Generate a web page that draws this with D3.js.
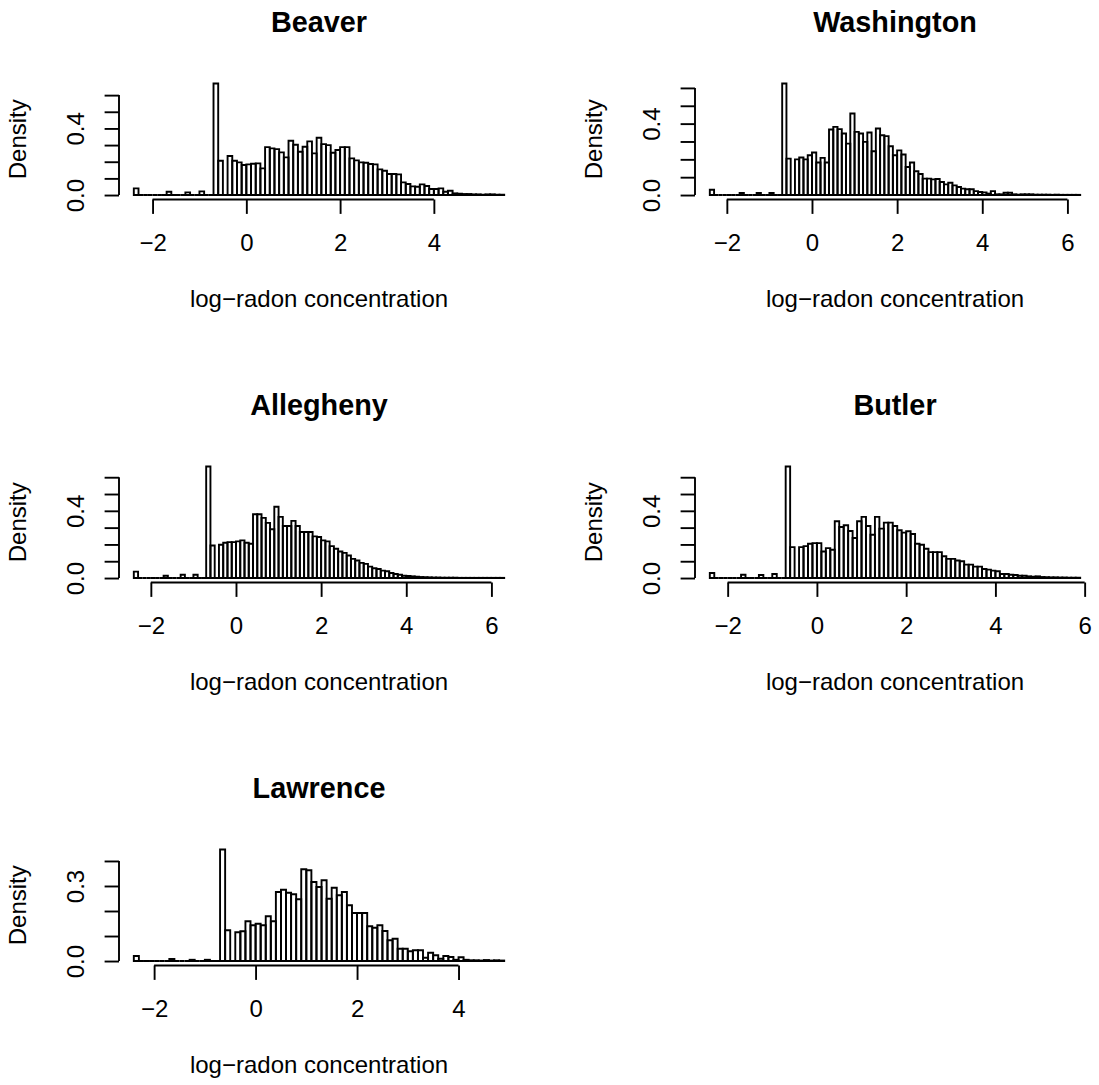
<!DOCTYPE html>
<html>
<head>
<meta charset="utf-8">
<script src="https://cdn.jsdelivr.net/npm/d3@7"></script>
<style>
  body { margin: 0; background: #fff; }
  svg { display: block; }
</style>
</head>
<body>
<div id="chart"></div>
<script>
(function() {
    'use strict';

    // ---- data: histogram densities, bins of 0.1 starting at -2.4 ----
    const counties = ['Beaver', 'Washington', 'Allegheny', 'Butler', 'Lawrence'];
    const binStart = -2.4;
    const binWidth = 0.1;

    const beaver = [
        0.04, 0, 0, 0, 0, 0, 0,
        0.02, 0, 0, 0,
        0.016, 0, 0,
        0.022, 0, 0,
        0.67, 0.206, 0, 0.234, 0.206, 0.196, 0.18,
        0.184, 0.188, 0.19, 0.16, 0.288, 0.28, 0.276, 0.256, 0.226, 0.326,
        0.302, 0.26, 0.29, 0.322, 0.25, 0.344, 0.306, 0.30, 0.254, 0.27,
        0.288, 0.288, 0.22, 0.208, 0.196, 0.194, 0.186, 0.184, 0.154, 0.146,
        0.126, 0.126, 0.124, 0.076, 0.066, 0.052, 0.05, 0.064, 0.054, 0.036,
        0.036, 0.04, 0.02, 0.026, 0.01, 0.008, 0.006, 0.006, 0.004, 0.004,
        0.002, 0.004, 0.004, 0.002, 0.002
    ];
    const washington = [
        0.03, 0, 0, 0, 0, 0, 0,
        0.011, 0, 0, 0,
        0.011, 0, 0,
        0.011, 0, 0,
        0.625, 0.204, 0, 0.2, 0.21, 0.2, 0.223,
        0.238, 0.182, 0.208, 0.182, 0.367, 0.382, 0.369, 0.345, 0.288, 0.457,
        0.354, 0.345, 0.298, 0.35, 0.245, 0.373, 0.335, 0.33, 0.273, 0.223,
        0.25, 0.227, 0.157, 0.182, 0.133, 0.118, 0.092, 0.092, 0.088, 0.09,
        0.073, 0.06, 0.069, 0.054, 0.045, 0.036, 0.032, 0.032, 0.022, 0.017,
        0.015, 0.008, 0.022, 0.004, 0.004, 0.013, 0.013, 0.004, 0.002, 0.004,
        0.004, 0.004, 0.002, 0.002, 0.002, 0.002, 0.001, 0.002, 0.001, 0.001,
        0.001, 0.001, 0.001
    ];
    const allegheny = [
        0.038, 0, 0, 0, 0, 0, 0,
        0.014, 0, 0, 0,
        0.02, 0, 0,
        0.02, 0, 0,
        0.664, 0.194, 0, 0.198, 0.21, 0.214, 0.214,
        0.218, 0.224, 0.21, 0.204, 0.38, 0.38, 0.358, 0.328, 0.29, 0.424,
        0.364, 0.31, 0.31, 0.34, 0.31, 0.274, 0.274, 0.274, 0.248, 0.244,
        0.224, 0.218, 0.19, 0.174, 0.158, 0.15, 0.134, 0.114, 0.104, 0.09,
        0.084, 0.068, 0.058, 0.054, 0.044, 0.04, 0.03, 0.024, 0.02, 0.014,
        0.012, 0.01, 0.008, 0.006, 0.005, 0.004, 0.003, 0.003, 0.002, 0.002,
        0.002, 0.002, 0.001, 0.001, 0.001, 0.001, 0.001, 0.001, 0.001, 0.001,
        0.001, 0.001, 0.001
    ];
    const butler = [
        0.03, 0, 0, 0, 0, 0, 0,
        0.02, 0, 0, 0,
        0.018, 0, 0,
        0.024, 0, 0,
        0.664, 0.184, 0, 0.184, 0.19, 0.204, 0.208,
        0.208, 0.158, 0.178, 0.168, 0.338, 0.304, 0.314, 0.28, 0.238, 0.338,
        0.364, 0.31, 0.258, 0.364, 0.294, 0.33, 0.33, 0.31, 0.284, 0.27,
        0.278, 0.262, 0.204, 0.198, 0.174, 0.154, 0.154, 0.154, 0.13, 0.114,
        0.114, 0.104, 0.1, 0.08, 0.08, 0.068, 0.068, 0.054, 0.05, 0.044,
        0.04, 0.024, 0.024, 0.02, 0.018, 0.014, 0.014, 0.01, 0.008, 0.01,
        0.006, 0.005, 0.004, 0.004, 0.003, 0.003, 0.002, 0.002, 0.002
    ];
    const lawrence = [
        0.02, 0, 0, 0, 0, 0, 0,
        0.008, 0, 0, 0,
        0.005, 0, 0,
        0.005, 0, 0,
        0.446, 0.123, 0, 0.115, 0.119, 0.159, 0.143,
        0.149, 0.143, 0.179, 0.159, 0.276, 0.285, 0.273, 0.267, 0.247, 0.367,
        0.363, 0.316, 0.296, 0.323, 0.249, 0.293, 0.263, 0.276, 0.223, 0.192,
        0.192, 0.192, 0.139, 0.133, 0.143, 0.12, 0.083, 0.089, 0.049, 0.049,
        0.039, 0.043, 0.043, 0.013, 0.033, 0.023, 0.009, 0.02, 0.016, 0.005,
        0.015, 0.005, 0.003, 0.003, 0.002, 0.004, 0.002, 0.003, 0.002
    ];
    const densities = [beaver, washington, allegheny, butler, lawrence];

    // ticks (R style: a few ticks, only some y labels survive)
    const xTicks = [
        [-2, 0, 2, 4],
        [-2, 0, 2, 4, 6],
        [-2, 0, 2, 4, 6],
        [-2, 0, 2, 4, 6],
        [-2, 0, 2, 4]
    ];
    const yTicks = [
        [0, 0.1, 0.2, 0.3, 0.4, 0.5, 0.6],
        [0, 0.1, 0.2, 0.3, 0.4, 0.5, 0.6],
        [0, 0.1, 0.2, 0.3, 0.4, 0.5, 0.6],
        [0, 0.1, 0.2, 0.3, 0.4, 0.5, 0.6],
        [0, 0.1, 0.2, 0.3, 0.4]
    ];
    const yLabelled = [[0, 0.4], [0, 0.4], [0, 0.4], [0, 0.4], [0, 0.3]];

    const xTitle = 'log\u2212radon concentration';
    const yTitle = 'Density';

    // ---- layout ----
    const W = 1099, H = 1085;
    const plotW = 400, plotH = 120.5;
    const slots = [
        { left: 119, top: 79 },
        { left: 695, top: 79 },
        { left: 119, top: 462 },
        { left: 695, top: 462 },
        { left: 119, top: 845 }
    ];
    const FONT = '"Liberation Sans", Arial, Helvetica, sans-serif';
    const tick = 14.4;

    const svg = d3.select('#chart').append('svg')
        .attr('width', W)
        .attr('height', H)
        .style('background', '#fff');

    counties.forEach((name, i) => {
        const dens = densities[i];
        const slot = slots[i];
        const lo = binStart;
        const hi = binStart + dens.length * binWidth;
        const padX = (hi - lo) * 0.04;
        const ymax = d3.max(dens);

        const x = d3.scaleLinear()
            .domain([lo - padX, hi + padX])
            .range([slot.left, slot.left + plotW]);
        const y = d3.scaleLinear()
            .domain([-0.04 * ymax, 1.04 * ymax])
            .range([slot.top + plotH, slot.top]);

        const g = svg.append('g').attr('class', 'panel');

        // bars as closed paths, so empty bins still show on the baseline
        g.append('g')
            .selectAll('path')
            .data(dens)
            .enter()
            .append('path')
            .attr('d', (d, k) => {
                const x0 = x(lo + k * binWidth), x1 = x(lo + (k + 1) * binWidth);
                return `M${x0},${y(0)}V${y(d)}H${x1}V${y(0)}Z`;
            })
            .attr('fill', 'none')
            .attr('stroke', '#000')
            .attr('stroke-width', 1.9);

        const bottom = slot.top + plotH;

        // x axis
        const xt = xTicks[i];
        g.append('g')
            .attr('transform', `translate(0,${bottom})`)
            .call(d3.axisBottom(x).tickValues(xt).tickSize(tick).tickSizeOuter(0).tickPadding(20))
            .call(a => a.select('.domain')
                .attr('d', `M${x(xt[0])},0H${x(xt[xt.length - 1])}`))
            .attr('font-size', 24)
            .attr('font-family', FONT)
            .call(a => a.selectAll('line, path').attr('stroke', '#000').attr('stroke-width', 1.9));

        // y axis
        const yt = yTicks[i];
        const yl = yLabelled[i];
        g.append('g')
            .attr('transform', `translate(${slot.left},0)`)
            .call(d3.axisLeft(y).tickValues(yt).tickSize(tick).tickSizeOuter(0)
                .tickFormat(d => yl.includes(d) ? d3.format('.1f')(d) : ''))
            .call(a => a.select('.domain')
                .attr('d', `M0,${y(yt[0])}V${y(yt[yt.length - 1])}`))
            .attr('font-size', 24)
            .attr('font-family', FONT)
            .call(a => a.selectAll('line, path').attr('stroke', '#000').attr('stroke-width', 1.9))
            .call(a => a.selectAll('text')
                .attr('x', null)
                .attr('dy', null)
                .attr('text-anchor', 'middle')
                .attr('transform', 'translate(-35,0) rotate(-90)'));

        // titles
        g.append('text')
            .attr('x', slot.left + plotW / 2)
            .attr('y', slot.top - 47.3)
            .attr('text-anchor', 'middle')
            .style('font', `bold 28.8px ${FONT}`)
            .text(name);

        g.append('text')
            .attr('x', slot.left + plotW / 2)
            .attr('y', bottom + 107)
            .attr('text-anchor', 'middle')
            .style('font', `24px ${FONT}`)
            .text(xTitle);

        g.append('text')
            .attr('transform', `translate(${slot.left - 93},${slot.top + plotH / 2}) rotate(-90)`)
            .attr('text-anchor', 'middle')
            .style('font', `24px ${FONT}`)
            .text(yTitle);
    });
})();
</script>
</body>
</html>
